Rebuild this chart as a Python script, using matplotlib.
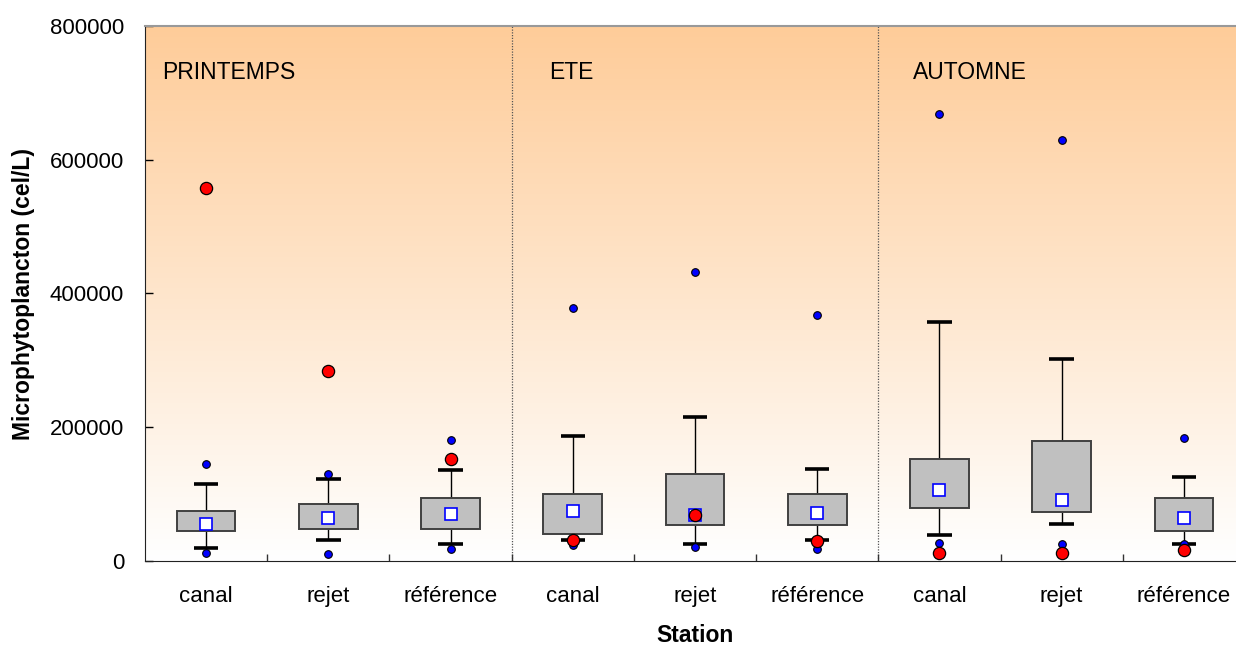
import numpy as np
import matplotlib
matplotlib.use("Agg")
import matplotlib.pyplot as plt
from matplotlib.colors import LinearSegmentedColormap

plt.rcParams['font.family'] = ['Liberation Sans', 'DejaVu Sans']

# --- data -------------------------------------------------------------
seasons = ["PRINTEMPS", "ETE", "AUTOMNE"]
stations = ["canal", "rejet", "référence"]

whisker_low = [19900, 31300, 25400, 31800, 25400, 31800, 38800, 54700, 25400]
q1 = [44300, 47800, 47800, 40300, 53200, 53200, 79100, 73100, 44800]
q3 = [75100, 84600, 94500, 100500, 129800, 100500, 153200, 180100, 94500]
whisker_high = [115400, 122800, 136300, 187000, 214900, 138300, 356700, 302000, 124900]
means = [54800, 64600, 70100, 74100, 68200, 72100, 105500, 91500, 64600]
outlier_low = [11500, 10000, 17400, 23900, 21400, 17400, 27400, 25900, 25400]
outlier_high = [144300, 129400, 181600, 378100, 432800, 367200, 668600, 629800, 183600]
highlight = [557800, 283600, 151800, 31300, 68200, 29900, 11900, 11900, 15900]

y_ticks = [0, 200000, 400000, 600000, 800000]

# --- figure -----------------------------------------------------------
fig = plt.figure(figsize=(12.36, 6.46), dpi=100)
ax = fig.add_axes([145 / 1236, 85 / 646, 1100 / 1236, 535 / 646])

n = len(stations) * len(seasons)
x = np.arange(n)
ax.set_xlim(-0.5, n - 0.5)
ax.set_ylim(0, 800000)

# peach-to-white vertical gradient background
grad = LinearSegmentedColormap.from_list("peach", ["#FFFFFF", "#FECC99"])
ax.imshow(np.linspace(0, 1, 256).reshape(-1, 1), cmap=grad, origin="lower",
          extent=[0, 1, 0, 1], transform=ax.transAxes, aspect="auto", zorder=0)

# whiskers
ax.vlines(x, whisker_low, q1, color="black", lw=1.0, zorder=2)
ax.vlines(x, q3, whisker_high, color="black", lw=1.0, zorder=2)
cap = 0.1
ax.hlines(whisker_low, x - cap, x + cap, color="black", lw=2.6, zorder=3)
ax.hlines(whisker_high, x - cap, x + cap, color="black", lw=2.6, zorder=3)

# boxes
ax.bar(x, np.array(q3) - np.array(q1), bottom=q1, width=0.48,
       color="#C0C0C0", edgecolor="#404040", linewidth=1.4, zorder=2)

# outliers
ax.plot(x, outlier_low, "o", ms=5.5, mfc="#0000FF", mec="black", mew=0.8, zorder=4)
ax.plot(x, outlier_high, "o", ms=5.5, mfc="#0000FF", mec="black", mew=0.8, zorder=4)

# means
ax.plot(x, means, "s", ms=8.5, mfc="white", mec="#0000FF", mew=1.2, zorder=5)

# highlighted observations
ax.plot(x, highlight, "o", ms=8.8, mfc="#FF0000", mec="black", mew=0.9, zorder=6)

# season separators and labels
for b in [2.5, 5.5]:
    ax.axvline(b, color="#555555", lw=0.9, ls=(0, (1, 1.2)), zorder=1)
season_label_x = [-0.36, 2.806, 5.785]
for sx, s in zip(season_label_x, seasons):
    ax.text(sx, 731000, s, fontsize=16.5, va="center", ha="left", zorder=7)

# axes styling
ax.set_yticks(y_ticks)
ax.set_yticklabels([str(v) for v in y_ticks], fontsize=16)
ax.tick_params(axis="y", direction="in", length=6, width=1, pad=15)

ax.set_xticks(np.arange(0.5, n - 0.5, 1.0))
ax.set_xticklabels([])
ax.set_xticks(x, minor=True)
ax.set_xticklabels(stations * len(seasons), minor=True, fontsize=16)
ax.tick_params(axis="x", which="major", direction="in", length=5, width=1, color="#333333")
ax.tick_params(axis="x", which="minor", length=0, pad=18)

ax.spines["left"].set_color("#222222")
ax.spines["bottom"].set_color("#222222")
ax.spines["top"].set_color("#999999")
ax.spines["top"].set_linewidth(1.5)
ax.spines["right"].set_visible(False)

ax.set_xlabel("Station", fontsize=16.5, fontweight="bold", labelpad=12)
ax.set_ylabel("Microphytoplancton (cel/L)", fontsize=16.5, fontweight="bold", labelpad=11)

fig.savefig("out.png", dpi=100)
